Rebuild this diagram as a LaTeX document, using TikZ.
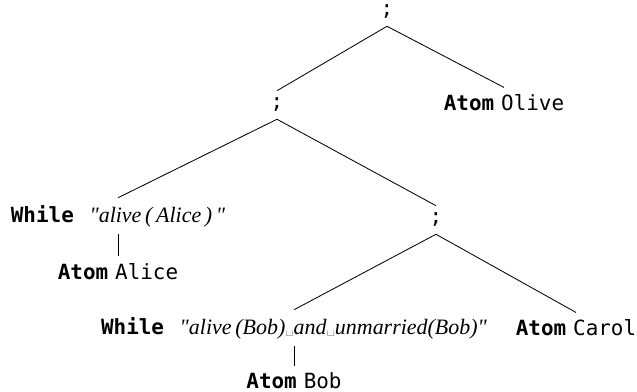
\documentclass[tikz,border=0pt]{standalone}
\usepackage{fontspec}
\setmonofont{DejaVu Sans Mono}
\newfontfamily\condfont{Liberation Serif}
\newcommand{\kw}[1]{\texttt{\textbf{#1}}}
\newcommand{\cond}[1]{{\fontsize{10.5}{12}\condfont\itshape "#1"}}
\newcommand{\vsp}{{\rmfamily\upshape\fontsize{7}{8}\selectfont\textvisiblespace}}
\begin{document}
\begin{tikzpicture}[x = 0.0168cm, y = -0.0168cm]
	\useasboundingbox (0, 0) rectangle (637, 392);
	% Nodes
	\node (seq1) at (387, 12) {\texttt{;}};
	\node (seq2) at (277, 105) {\texttt{;}};
	\node (olive) at (504, 103) {\kw{Atom} \texttt{Olive}};
	\node (while1) at (118, 216) {\kw{While}\hspace{0.75em}\cond{alive\,(\,Alice\,)\,}};
	\node (alice) at (118, 272) {\kw{Atom} \texttt{Alice}};
	\node (seq3) at (436, 220) {\texttt{;}};
	\node (while2) at (294, 328) {\kw{While}\hspace{0.75em}\cond{alive\,(Bob)\vsp and\vsp unmarried(Bob)}};
	\node (bob) at (294, 381) {\kw{Atom} \texttt{Bob}};
	\node (carol) at (576, 328) {\kw{Atom} \texttt{Carol}};
	
	% Edges
	\draw (seq1.south) to (seq2.north);
	\draw (seq1.south) to (olive.north);
	\draw (seq2.south) to (while1.north);
	\draw (seq2.south) to (seq3.north);
	\draw (while1) to (alice);
	\draw (seq3.south) to (while2.north);
	\draw (seq3.south) to (carol.north);
	\draw (while2) to (bob);
\end{tikzpicture}
\end{document}
